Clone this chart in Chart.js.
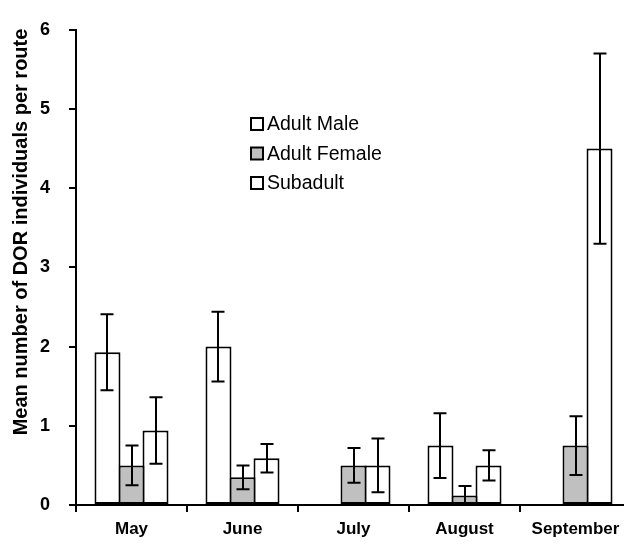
<!DOCTYPE html>
<html>
<head>
<meta charset="utf-8">
<script src="https://cdn.jsdelivr.net/npm/chart.js@4"></script>
<style>
  html, body { margin: 0; padding: 0; background: #fff; overflow: hidden; }
  #wrap { width: 632px; height: 544px; }
</style>
</head>
<body>
<div id="wrap"><canvas id="chart" width="632" height="544"></canvas></div>
<script>
const months = ['May', 'June', 'July', 'August', 'September'];
const seriesNames = ['Adult Male', 'Adult Female', 'Subadult'];
const maleMean = [1.93, 2.0, 0, 0.75, 0];
const maleErr = [0.48, 0.44, 0, 0.41, 0];
const femaleMean = [0.5, 0.35, 0.5, 0.12, 0.75];
const femaleErr = [0.25, 0.15, 0.22, 0.12, 0.37];
const subMean = [0.94, 0.59, 0.5, 0.5, 4.5];
const subErr = [0.42, 0.18, 0.34, 0.19, 1.2];
const yTicks = [0, 1, 2, 3, 4, 5, 6];
const yTitle = 'Mean number of DOR individuals per route';

const fills = ['#ffffff', '#c0c0c0', '#ffffff'];
const fontFamily = '"Liberation Sans", Arial, sans-serif';

// error bars drawn from the bar elements and the y scale
const errorBars = {
  id: 'errorBars',
  afterDatasetsDraw(chart) {
    const ctx = chart.ctx;
    const y = chart.scales.y;
    ctx.save();
    ctx.strokeStyle = '#000';
    ctx.lineWidth = 2;
    chart.data.datasets.forEach((ds, di) => {
      const meta = chart.getDatasetMeta(di);
      meta.data.forEach((bar, i) => {
        const e = ds.err[i];
        if (!e) return;
        const v = ds.data[i];
        const top = y.getPixelForValue(v + e);
        const bot = y.getPixelForValue(Math.max(0, v - e));
        const x = Math.round(bar.x);
        ctx.beginPath();
        ctx.moveTo(x, top); ctx.lineTo(x, bot);
        ctx.moveTo(x - 6.5, top); ctx.lineTo(x + 6.5, top);
        ctx.moveTo(x - 6.5, bot); ctx.lineTo(x + 6.5, bot);
        ctx.stroke();
      });
    });
    ctx.restore();
  }
};

// legend placed inside the plot, y title placed a bit above the axis middle
const innerLegend = {
  id: 'innerLegend',
  afterDraw(chart) {
    const ctx = chart.ctx;
    ctx.save();
    ctx.font = '19.5px ' + fontFamily;
    ctx.textBaseline = 'middle';
    chart.data.datasets.forEach((ds, i) => {
      const yy = 124 + i * 29.5;
      ctx.fillStyle = ds.backgroundColor;
      ctx.fillRect(251, yy - 6, 12, 12);
      ctx.strokeStyle = '#000';
      ctx.lineWidth = 2;
      ctx.strokeRect(251, yy - 6, 12, 12);
      ctx.fillStyle = '#000';
      ctx.fillText(ds.label, 267, yy + 1);
    });

    ctx.translate(21, 232);
    ctx.rotate(-Math.PI / 2);
    ctx.font = 'bold 20px ' + fontFamily;
    ctx.textAlign = 'center';
    ctx.fillText(yTitle, 0, 0);
    ctx.restore();
  }
};

const makeSet = (label, data, err, color) => ({
  label: label,
  data: data,
  err: err,
  backgroundColor: color,
  borderColor: '#000',
  borderWidth: 2,
  borderSkipped: false,
  inflateAmount: 0,
  categoryPercentage: 0.649,
  barPercentage: 1.083
});

new Chart(document.getElementById('chart'), {
  type: 'bar',
  data: {
    labels: months,
    datasets: [
      makeSet(seriesNames[0], maleMean, maleErr, fills[0]),
      makeSet(seriesNames[1], femaleMean, femaleErr, fills[1]),
      makeSet(seriesNames[2], subMean, subErr, fills[2])
    ]
  },
  options: {
    responsive: false,
    animation: false,
    events: [],
    layout: { padding: { top: 20, right: 1, left: 0, bottom: 0 } },
    plugins: { legend: { display: false }, tooltip: { enabled: false } },
    scales: {
      x: {
        afterFit(s) { s.height = 39; },
        border: { display: true, color: '#000', width: 2 },
        grid: { display: true, offset: true, drawOnChartArea: false, color: '#000', tickLength: 7, lineWidth: 2 },
        ticks: { color: '#000', padding: 7, font: { family: fontFamily, size: 17, weight: 'bold' } }
      },
      y: {
        min: 0,
        max: 6,
        afterFit(s) { s.width = 76; },
        afterBuildTicks(s) { s.ticks = yTicks.map(v => ({ value: v })); },
        border: { display: true, color: '#000', width: 2 },
        grid: { display: true, drawOnChartArea: false, color: '#000', tickLength: 7, lineWidth: 2 },
        ticks: { color: '#000', padding: 19, font: { family: fontFamily, size: 18, weight: 'bold' } }
      }
    }
  },
  plugins: [errorBars, innerLegend]
});
</script>
</body>
</html>
